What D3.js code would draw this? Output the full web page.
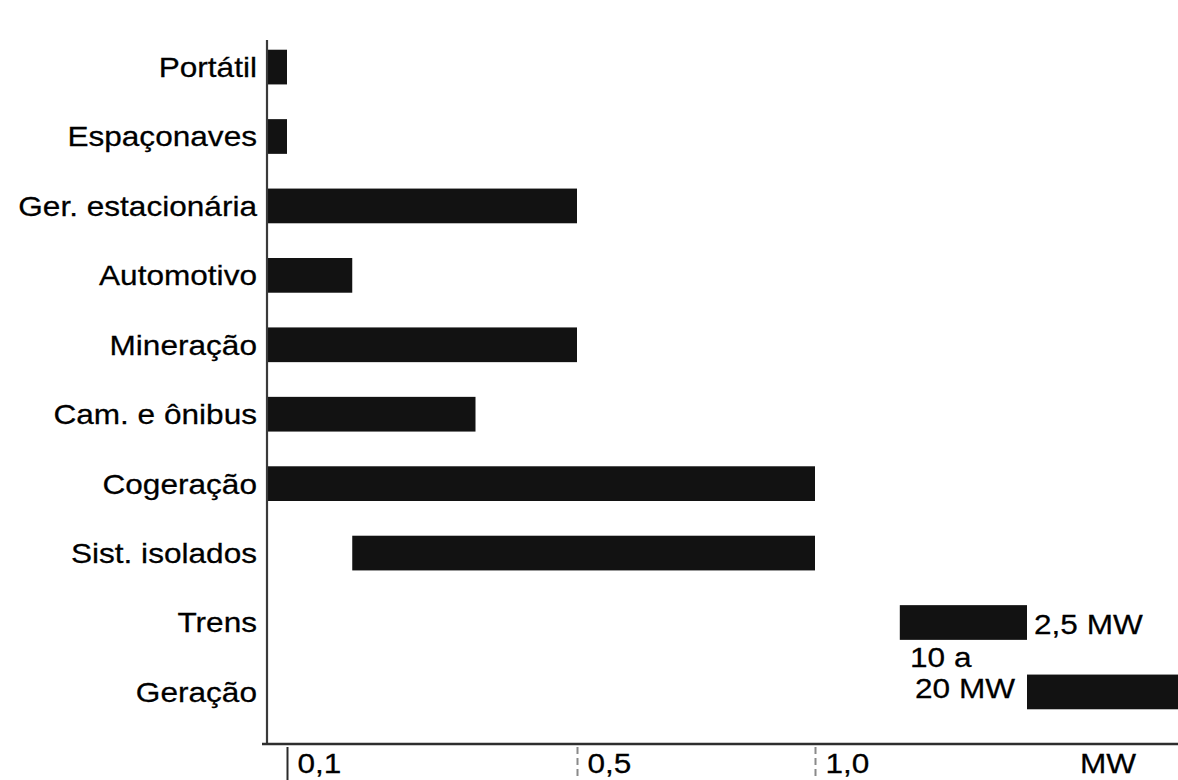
<!DOCTYPE html>
<html>
<head>
<meta charset="utf-8">
<script src="https://cdn.jsdelivr.net/npm/d3@7"></script>
<style>
  html, body { margin: 0; padding: 0; background: #fff; }
  svg { display: block; }
  text { font-family: "Liberation Sans", Arial, sans-serif; fill: #000; stroke: #000; stroke-width: 0.25px; }
</style>
</head>
<body>
<svg id="chart" width="1178" height="780"></svg>
<script>
// ---- data ----
const categories = ["Portátil", "Espaçonaves", "Ger. estacionária", "Automotivo", "Mineração",
                    "Cam. e ônibus", "Cogeração", "Sist. isolados", "Trens", "Geração"];
const rangeStart = [0, 0, 0, 0, 0, 0, 0, 0.19, 1.6, 2.5];   // MW
const rangeEnd   = [0.1, 0.1, 0.5, 0.19, 0.5, 0.36, 1.0, 1.0, 2.5, 20];
const tickValues = [0.1, 0.5, 1.0];
const tickLabels = ["0,1", "0,5", "1,0"];
const unitLabel = "MW";
const trensNote = "2,5 MW";
const geracaoNote = ["10 a", "20 MW"];

// ---- layout ----
const W = 1178, H = 780;
const axisX = 267, axisY = 744;
const stretch = 1.17;
const fs = 27;

const svg = d3.select("#chart");

// schematic (piecewise) value scale
const x = d3.scaleLinear()
  .domain([0, 0.1, 0.5, 1.0, 2.5, 20])
  .range([axisX, 287, 577, 815, 1027, 1178])
  .clamp(true);

const y = d3.scaleBand()
  .domain(categories)
  .range([15, axisY])
  .paddingInner(0.5)
  .paddingOuter(0.5);

const rows = categories.map((c, i) => ({ c, s: rangeStart[i], e: rangeEnd[i] }));

// bars
svg.append("g").selectAll("rect").data(rows).join("rect")
  .attr("x", d => x(d.s) + (d.s === 0 ? 1 : 0))
  .attr("y", d => y(d.c))
  .attr("width", d => x(d.e) - x(d.s) - (d.s === 0 ? 1 : 0))
  .attr("height", y.bandwidth())
  .attr("fill", "#121212");

// category labels
svg.append("g").selectAll("text").data(rows).join("text")
  .attr("transform", d => `translate(${axisX - 10},${y(d.c) + y.bandwidth() / 2}) scale(${stretch},1)`)
  .attr("text-anchor", "end")
  .attr("dy", "0.37em")
  .style("font-size", fs + "px")
  .text(d => d.c);

// left axis line
svg.append("line")
  .attr("x1", axisX).attr("x2", axisX)
  .attr("y1", 40).attr("y2", axisY)
  .attr("stroke", "#3a3a3a").attr("stroke-width", 2.2);

// bottom axis
const xAxis = d3.axisBottom(x)
  .tickValues(tickValues)
  .tickFormat((d, i) => tickLabels[i])
  .tickSize(H - axisY)
  .tickSizeOuter(0);

const gx = svg.append("g")
  .attr("transform", `translate(0,${axisY})`)
  .call(xAxis);
gx.select(".domain").remove();
gx.selectAll(".tick line")
  .attr("stroke", (d, i) => i === 0 ? "#2a2a2a" : "#8a8a8a")
  .attr("stroke-width", 2)
  .attr("stroke-dasharray", (d, i) => i === 0 ? null : "7,4")
  .attr("y1", 3);
gx.selectAll(".tick text")
  .attr("text-anchor", "start")
  .attr("x", null).attr("y", null).attr("dy", null)
  .attr("transform", `translate(10,${H - axisY - 7}) scale(${stretch},1)`)
  .style("font-size", fs + "px")
  .style("font-family", '"Liberation Sans", Arial, sans-serif')
  .attr("fill", "#000");

svg.append("line")
  .attr("x1", axisX - 5).attr("x2", W)
  .attr("y1", axisY).attr("y2", axisY)
  .attr("stroke", "#2e2e2e").attr("stroke-width", 2.4);

// unit label
svg.append("text")
  .attr("transform", `translate(1080,${H - 7}) scale(${stretch},1)`)
  .style("font-size", fs + "px")
  .text(unitLabel);

// annotations
const trens = rows[8], ger = rows[9];
svg.append("text")
  .attr("transform", `translate(${x(trens.e) + 7},${y(trens.c) + y.bandwidth() / 2 + 2}) scale(${stretch},1)`)
  .attr("dy", "0.37em")
  .style("font-size", fs + "px")
  .text(trensNote);

const gStartX = x(ger.s) - 12;
const gMid = y(ger.c) + y.bandwidth() / 2;
svg.append("text")
  .attr("transform", `translate(${gStartX - 105},${gMid - 25}) scale(${stretch},1)`)
  .style("font-size", fs + "px")
  .text(geracaoNote[0]);
svg.append("text")
  .attr("transform", `translate(${gStartX},${gMid + 6}) scale(${stretch},1)`)
  .attr("text-anchor", "end")
  .style("font-size", fs + "px")
  .text(geracaoNote[1]);
</script>
</body>
</html>
